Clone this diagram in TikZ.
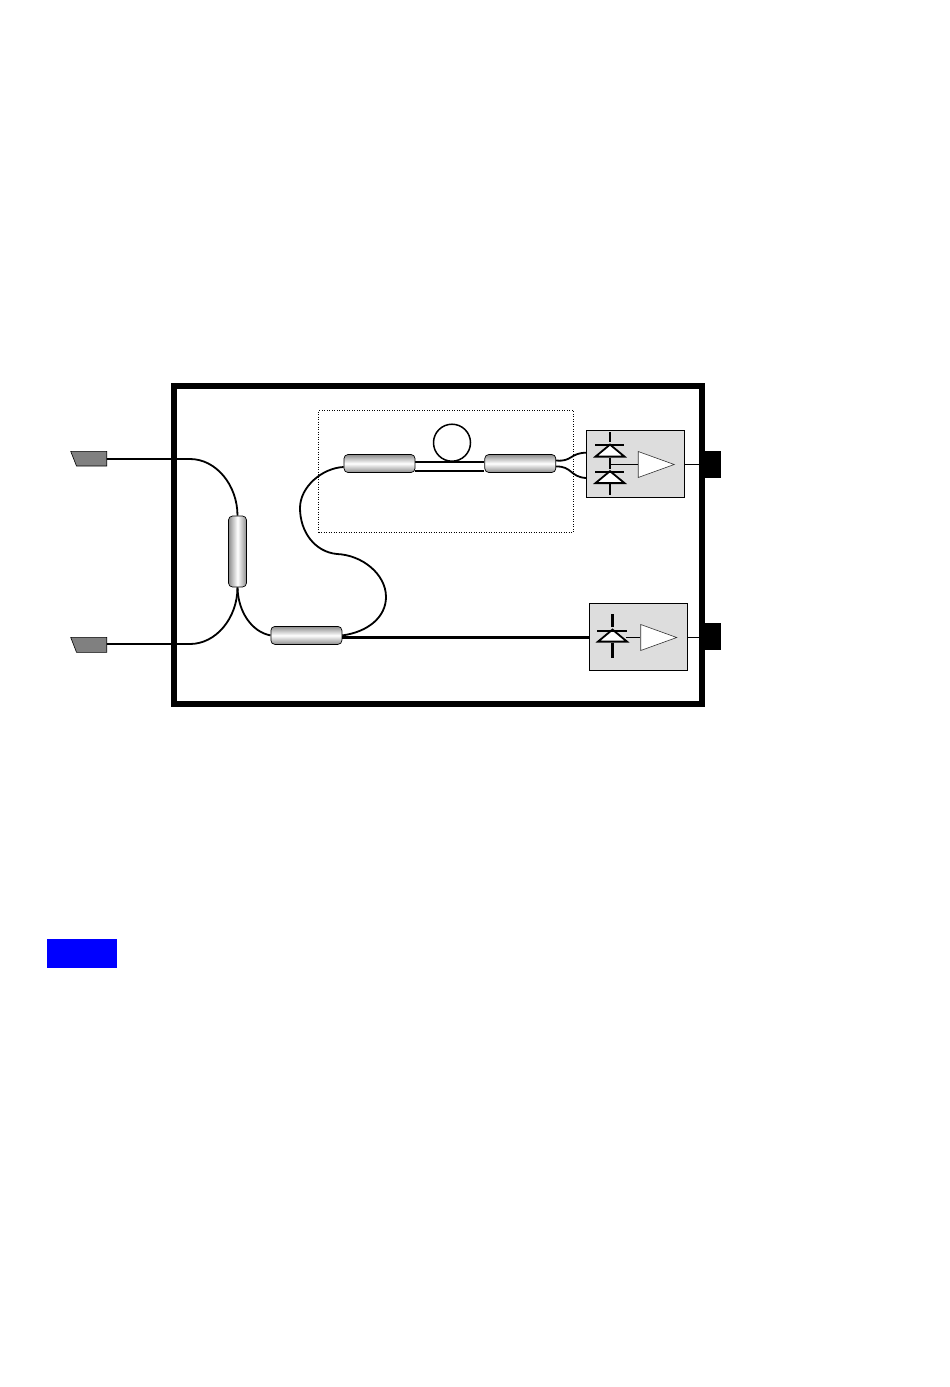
\documentclass[tikz,border=0pt]{standalone}
\usepackage{xcolor}
\usepackage{tikz}
\usetikzlibrary{arrows.meta,positioning,shapes.geometric,backgrounds}
\definecolor{boardgrey}{HTML}{DDDDDD}
\definecolor{markblue}{HTML}{0000FF}

\begin{document}
\begin{tikzpicture}[
  x=1pt, y=-1pt,
  hcoupler/.style={draw, rounded corners=4pt, minimum width=71pt, minimum height=18pt, inner sep=0pt, line width=0.7pt, top color=gray!90, bottom color=gray!90, middle color=white},
  vcoupler/.style={draw, rounded corners=4pt, minimum width=18pt, minimum height=71pt, inner sep=0pt, line width=0.7pt, left color=gray!90, right color=gray!90, middle color=white},
  board/.style={draw, fill=boardgrey, minimum width=98pt, minimum height=66.5pt, inner sep=0pt, line width=0.8pt},
  amp/.style={draw=black!80, fill=white, isosceles triangle, isosceles triangle stretches, shape border rotate=0, minimum width=26pt, minimum height=36pt, inner sep=0pt, line width=0.6pt},
  jack/.style={fill=black, minimum width=16pt, minimum height=27pt, inner sep=0pt},
  plug/.style={draw, fill=gray, line width=0.6pt},
  fibre/.style={line width=1.8pt},
  wire/.style={line width=0.9pt},
  lead/.style={line width=2.2pt},
  bar/.style={line width=2.6pt},
  diode/.style={draw, fill=white, line width=1.8pt, isosceles triangle, isosceles triangle stretches, shape border rotate=90, minimum width=29pt, minimum height=12pt, inner sep=0pt}
]
\useasboundingbox (0,0) rectangle (950,1387);

\node[draw, line width=6pt, minimum width=528pt, minimum height=318pt, inner sep=0pt] (case) at (438,545) {};
\node[draw, dotted, line width=0.5pt, minimum width=254.5pt, minimum height=122pt, inner sep=0pt] (delay) at (445.8,471) {};

\node[board] (rxa) at (635.3,464) {};
\node[board] (rxb) at (638.4,636.7) {};
\node[jack] (outa) at (713,464.5) {};
\node[jack] (outb) at (713,636.5) {};

\node[amp, anchor=apex] (ampa) at (675,464.5) {};
\node[amp, anchor=apex] (ampb) at (677.5,637.5) {};

\node[hcoupler] (ca) at (379.5,463.5) {};
\node[hcoupler] (cb) at (520.3,463.5) {};
\node[hcoupler] (cc) at (306.4,635.4) {};
\node[vcoupler] (cd) at (237.5,551.5) {};

\node[draw, line width=1.5pt, circle, minimum size=37pt, inner sep=0pt] (ring) at (452,442.7) {};

\draw[plug] (70.7,451.3) -- (106.7,451.3) -- (106.7,466) -- (76.5,466) -- cycle;
\draw[plug] (70.7,637.3) -- (106.7,637.3) -- (106.7,652.3) -- (76.5,652.3) -- cycle;

\node[fill=markblue, minimum width=70pt, minimum height=29pt, inner sep=0pt] (mark) at (82,953.5) {};

\coordinate (pa) at (106.7,459);
\coordinate (pb) at (106.7,644);
\coordinate (bendA) at (190,459);
\coordinate (bendB) at (190,644);
\coordinate (rxaA) at (586,452.7);
\coordinate (rxaB) at (586,478);

\node[diode, anchor=south] (da) at (610,457.5) {};
\node[diode, anchor=south] (db) at (610,484) {};
\node[diode, anchor=south] (dc) at (612.5,642.5) {};

\begin{scope}[on background layer]
\draw[fibre] (pa) -- (bendA) .. controls (216,459) and (237.5,485) .. (cd.north);
\draw[fibre] (pb) -- (bendB) .. controls (216,644) and (237.5,618) .. (cd.south);
\draw[fibre] (cd.south) .. controls (238,612) and (252,632) .. (cc.west);
\draw[fibre] (cc.east) .. controls (368,632) and (386,617) .. (386,597)
  .. controls (386,574) and (362,555) .. (337,554)
  .. controls (315,552) and (300,532) .. (300,508)
  .. controls (300,487) and (322,468) .. ([yshift=-3.5pt]ca.west);
\draw[fibre] ([yshift=1.5pt]ca.east) -- ([yshift=1.5pt]cb.west);
\draw[fibre] ([yshift=-7.5pt]ca.east) -- ([yshift=-7.5pt]cb.west);
\draw[fibre] ([yshift=3pt]cb.east) .. controls (572,462) and (570,453) .. (rxaA);
\draw[fibre] ([yshift=-3pt]cb.east) .. controls (572,466) and (570,477) .. (rxaB);
\draw[lead] ([yshift=-0.8pt]cc.east |- rxb.west) -- ([yshift=-0.8pt]rxb.west);
\end{scope}

\draw[wire] (rxa.east |- ampa.apex) -- (outa.west |- ampa.apex);
\draw[wire] (rxb.east |- ampb.apex) -- (outb.west |- ampb.apex);

\draw[lead] (610,432) -- (da.apex);
\draw[bar] (595,445) -- (624,445);
\draw[lead] (da.south) -- (db.apex);
\draw[bar] (595,472) -- (624,472);
\draw[lead] (db.south) -- (610,495);
\draw[fibre] (da.south |- ampa.west) -- (ampa.west);
\draw[lead] (612.5,614) -- (dc.apex);
\draw[bar] (597,631) -- (627,631);
\draw[lead] (dc.south) -- (612.5,658);
\draw[fibre] (626,637.5) -- (ampb.west);
\end{tikzpicture}
\end{document}
